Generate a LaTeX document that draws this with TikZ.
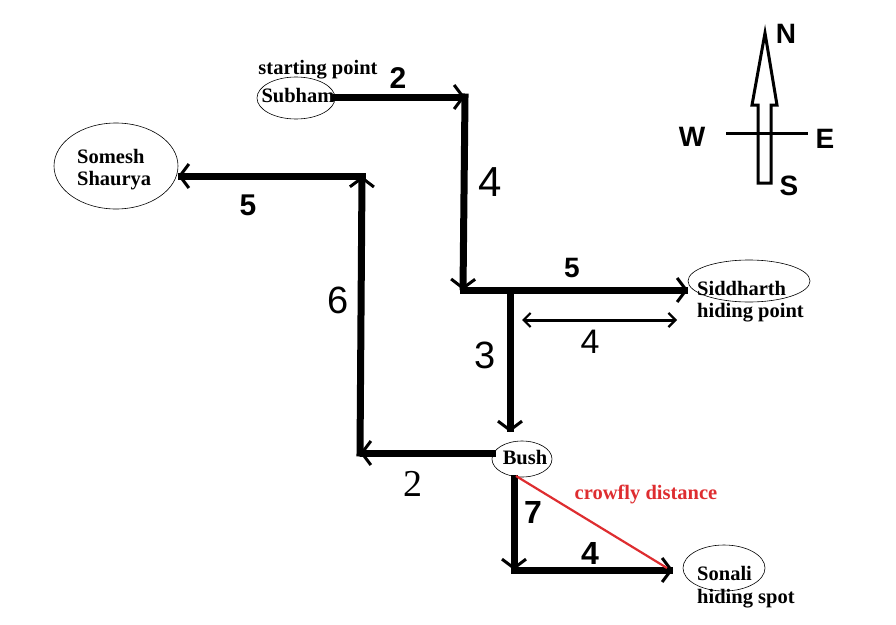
\documentclass[tikz,border=0pt]{standalone}
\usepackage{fontspec}
\setmainfont{Liberation Serif}
\newfontfamily\hand{Liberation Sans}
\usetikzlibrary{arrows.meta,shapes.geometric}
\definecolor{crow}{RGB}{222,45,48}
\tikzset{
  place/.style={draw,ellipse,line width=0.6pt,inner sep=0pt},
  route/.style={line width=7pt,line cap=rect,-{Straight Barb[length=9pt,width=24pt,line width=3pt]}},
  thinroute/.style={line width=3pt,{Straight Barb[length=7pt,width=14pt,line width=2.2pt]}-{Straight Barb[length=7pt,width=14pt,line width=2.2pt]}},
  lbl/.style={font=\bfseries\fontsize{20.5}{22}\selectfont,inner sep=0pt},
  lblw/.style={lbl,anchor=west},
  num/.style={font=\hand\bfseries\fontsize{30}{32}\selectfont,inner sep=0pt},
  dir/.style={font=\hand\bfseries\fontsize{28}{30}\selectfont,inner sep=0pt}
}
\begin{document}
\begin{tikzpicture}[x=1pt,y=-1pt]
\useasboundingbox (0,0) rectangle (896,624);
% places
\node[place,minimum width=78pt,minimum height=42pt] (subham) at (296,98) {};
\node[lbl] (subhamt) at (298,96) {Subham};
\node[lbl] (start) at (318,70) {starting point};
\node[place,minimum width=124pt,minimum height=86pt] (somesh) at (116,166) {};
\node[lblw] (somesht) at (77,156) {Somesh};
\node[lblw] (someshs) at (77,181) {Shaurya};
\node[place,minimum width=122pt,minimum height=42pt] (sidd) at (749,281) {};
\node[lblw] (siddt) at (697,288) {Siddharth};
\node[lblw] (siddh) at (697,313) {hiding point};
\node[place,minimum width=60pt,minimum height=36pt] (bush) at (522,459) {};
\node[lbl] (busht) at (525,458) {Bush};
\node[place,minimum width=82pt,minimum height=46pt] (sonali) at (724,568) {};
\node[lblw] (sonalit) at (697,573) {Sonali};
\node[lblw] (sonalih) at (697,599) {hiding spot};
% corners
\coordinate (s0) at (336,97);
\coordinate (c1) at (465,97);
\coordinate (c2) at (463,290);
\coordinate (e1) at (688,290);
\coordinate (j1) at (510,290);
\coordinate (j2) at (510,432);
\coordinate (b0) at (492,453);
\coordinate (c3) at (360,453);
\coordinate (c4) at (362,176);
\coordinate (e2) at (178,176);
\coordinate (b1) at (514,478);
\coordinate (c5) at (514,570);
\coordinate (e3) at (673,570);
\coordinate (d1) at (522,320);
\coordinate (d2) at (677,320);
\coordinate (r0) at (516,476);
\coordinate (r1) at (667,568);
% routes
\draw[route] (s0) -- (c1);
\draw[route] (c1) -- (c2);
\draw[route] (c2) -- (e1);
\draw[line width=7pt] (j1) -- ++(0,-3);
\draw[route] (j1) -- (j2);
\draw[route] (b0) -- (c3);
\draw[route] (c3) -- (c4);
\draw[route] (c4) -- (e2);
\draw[route] (b1) -- (c5);
\draw[route] (c5) -- (e3);
\draw[thinroute] (d1) -- (d2);
\draw[crow,line width=2.2pt] (r0) -- (r1);
% labels
\node[num] (n2a) at (398,78) {2};
\node[num,font=\hand\fontsize{42}{44}\selectfont] (n4a) at (490,182) {4};
\node[num,font=\hand\bfseries\fontsize{28}{30}\selectfont] (n5a) at (572,268) {5};
\node[num,font=\hand\fontsize{38}{40}\selectfont] (n3) at (485,355) {3};
\node[num,font=\hand\fontsize{34}{36}\selectfont] (n4b) at (590,342) {4};
\node[num,font=\fontsize{38}{40}\selectfont] (n2b) at (413,484) {2};
\node[num,font=\hand\fontsize{38}{40}\selectfont] (n6) at (338,300) {6};
\node[num,font=\hand\bfseries\fontsize{30}{32}\selectfont] (n5b) at (248,205) {5};
\node[num,font=\hand\bfseries\fontsize{32}{34}\selectfont] (n7) at (533,512) {7};
\node[num,font=\hand\bfseries\fontsize{32}{34}\selectfont] (n4c) at (590,553) {4};
\node[lbl,text=crow] (crowt) at (646,494) {crowfly distance};
% compass
\draw[line width=3pt,line join=miter] (758,183) -- (758,105) -- (752,105) -- (765,33) -- (777,105) -- (771,105) -- (771,183) -- cycle;
\draw[line width=3pt] (726,133) -- (808,133);
\node[dir] (cn) at (786,34) {N};
\node[dir] (cw) at (692,137) {W};
\node[dir] (ce) at (825,139) {E};
\node[dir] (cs) at (789,186) {S};
\end{tikzpicture}
\end{document}
